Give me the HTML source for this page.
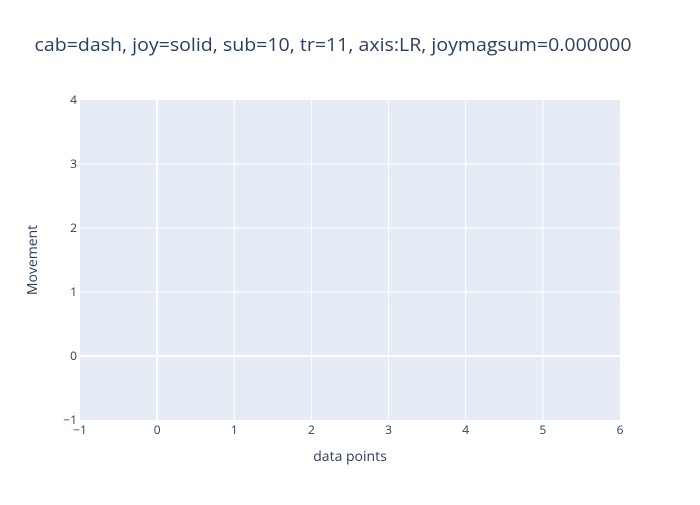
<!DOCTYPE html>
<html><head><meta charset="utf-8"><style>
body{margin:0;background:#fff;}
svg{font-family:"Open Sans","Liberation Sans",Arial,sans-serif;}
</style></head><body>
<svg id="chart" width="700" height="500">
<rect width="700" height="500" fill="#fff"/>
<rect x="80" y="100" width="540" height="320" fill="#e5ecf6"/>
<g id="grid"></g>
<g id="ticks"></g>
<text x="333" y="51" text-anchor="middle" font-size="18.5" textLength="597" lengthAdjust="spacingAndGlyphs" fill="#2a3f5f">cab=dash, joy=solid, sub=10, tr=11, axis:LR, joymagsum=0.000000</text>
<text x="350" y="461" text-anchor="middle" font-size="14" fill="#2a3f5f">data points</text>
<text transform="translate(37,260) rotate(-90)" text-anchor="middle" font-size="14" fill="#2a3f5f">Movement</text>
</svg>
<script>
const xTicks=[-1,0,1,2,3,4,5,6];
const yTicks=[-1,0,1,2,3,4];
const xMin=-1,xMax=6,yMin=-1,yMax=4;
const L=80,R=620,T=100,B=420;
const sx=v=>L+(v-xMin)/(xMax-xMin)*(R-L);
const sy=v=>B-(v-yMin)/(yMax-yMin)*(B-T);
const ns="http://www.w3.org/2000/svg";
const g=document.getElementById('grid'),tk=document.getElementById('ticks');
const lab=v=>v<0?'\u2212'+Math.abs(v):String(v);
xTicks.forEach(v=>{
  if(v!==xMin&&v!==xMax){
    const l=document.createElementNS(ns,'line');
    
    
    l.setAttribute('x1',sx(v));l.setAttribute('x2',sx(v));l.setAttribute('y1',T);l.setAttribute('y2',B);
    l.setAttribute('stroke','#fff');l.setAttribute('stroke-width',v===0?2:1);
    g.appendChild(l);
  }
  const t=document.createElementNS(ns,'text');
  
  
  t.setAttribute('x',sx(v));t.setAttribute('y',434);t.setAttribute('text-anchor','middle');
  t.setAttribute('font-size','12');t.setAttribute('fill','#2a3f5f');t.textContent=lab(v);
  tk.appendChild(t);
});
yTicks.forEach(v=>{
  if(v!==yMin&&v!==yMax){
    const l=document.createElementNS(ns,'line');
    
    
    l.setAttribute('x1',L);l.setAttribute('x2',R);l.setAttribute('y1',sy(v));l.setAttribute('y2',sy(v));
    l.setAttribute('stroke','#fff');l.setAttribute('stroke-width',v===0?2:1);
    g.appendChild(l);
  }
  const t=document.createElementNS(ns,'text');
  
  
  t.setAttribute('x',77);t.setAttribute('y',sy(v)+4);t.setAttribute('text-anchor','end');
  t.setAttribute('font-size','12');t.setAttribute('fill','#2a3f5f');t.textContent=lab(v);
  tk.appendChild(t);
});
</script>
</body></html>
